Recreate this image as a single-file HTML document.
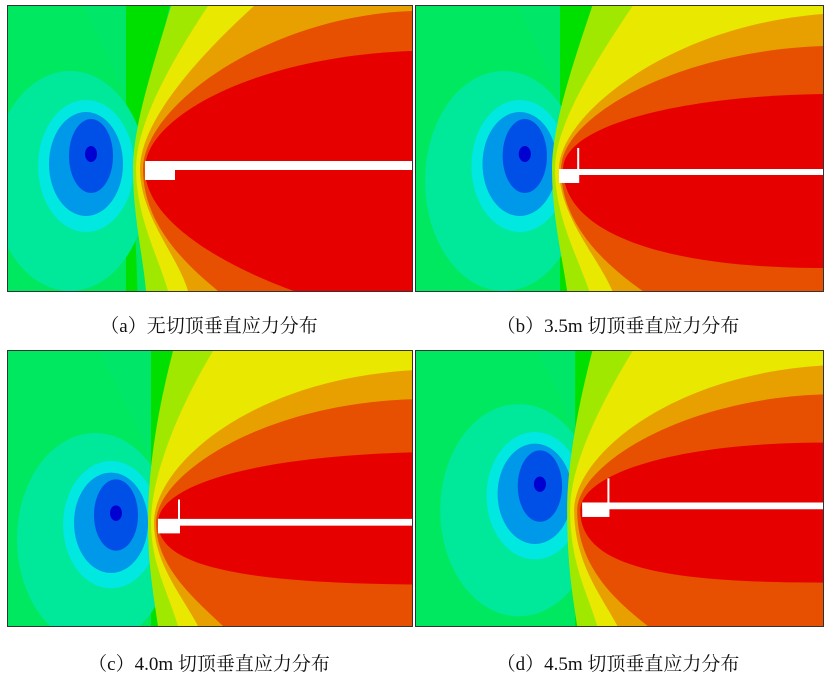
<!DOCTYPE html>
<html><head><meta charset="utf-8"><style>
body{margin:0;background:#fff;width:829px;height:682px;position:relative;overflow:hidden}
.p{position:absolute;border:1px solid #333}
.c{position:absolute;font-family:"Liberation Serif","Noto Serif CJK SC",serif;font-size:19px;color:#111;white-space:nowrap;transform:translateX(-50%)}
</style></head><body>
<svg width="0" height="0" style="position:absolute"><defs>
<g id="base">
<rect x="-60" y="-40" width="520" height="380" fill="#00e668"/>
<path d="M-60,-40 H60 C90,40 110,60 125,120 L125,330 H-60Z" fill="#00e860"/>
<path d="M118,-40 H170 C150,60 130,120 125,163 C125,210 130,250 130,330 H118Z" fill="#00e000"/>
<ellipse cx="62" cy="175" rx="78" ry="110" fill="#00e89a"/>
<ellipse cx="78" cy="160" rx="48" ry="66" fill="#00e8e0"/>
<ellipse cx="78" cy="158" rx="37" ry="52" fill="#0098e8"/>
<ellipse cx="83" cy="150" rx="22" ry="37" fill="#0050e8"/>
<ellipse cx="83" cy="148" rx="6" ry="8" fill="#0000d0"/>
</g>
</defs></svg>

<div class="p" style="left:7px;top:5px;width:404px;height:285px">
<svg width="404" height="285" viewBox="0 0 404 285">
<use href="#base"/>
<path d="M163,0 C145,60 125,120 125,163 C125,210 135,250 138,285 H404 V0Z" fill="#a0e800"/>
<path d="M200,0 C160,60 128,120 128,163 C128,210 150,250 160,285 H404 V0Z" fill="#e8e800"/>
<path d="M246,0 C180,60 132,120 132,163 C132,210 170,250 180,285 H404 V0Z" fill="#e8a000"/>
<path d="M404,5 C260,10 135,100 135,163 C135,220 180,260 210,285 H404Z" fill="#e65000"/>
<path d="M404,45 C250,50 137,110 137,163 C137,220 230,265 286,285 H404Z" fill="#e60000"/>
<rect x="137" y="155" width="267" height="9" fill="#fff"/>
<rect x="137" y="155" width="30" height="19" fill="#fff"/>
</svg></div>

<div class="p" style="left:415px;top:5px;width:407px;height:285px">
<svg width="407" height="285" viewBox="0 0 404 285" preserveAspectRatio="none">
<use href="#base" transform="translate(25,0)"/>
<path d="M175,0 C155,60 135,120 135,163 C135,210 145,250 150,285 H404 V0Z" fill="#a0e800"/>
<path d="M215,0 C175,60 138,120 138,163 C138,210 160,250 172,285 H404 V0Z" fill="#e8e800"/>
<path d="M404,8 C250,20 142,110 142,163 C142,210 180,250 195,285 H404Z" fill="#e8a000"/>
<path d="M404,40 C260,45 144,110 144,163 C144,220 190,260 225,285 H404Z" fill="#e65000"/>
<path d="M404,88 C260,90 146,120 146,163 C146,225 240,262 404,262Z" fill="#e60000"/>
<rect x="142" y="163" width="262" height="6" fill="#fff"/>
<rect x="142" y="163" width="20" height="14" fill="#fff"/>
<rect x="160" y="142" width="2" height="22" fill="#fff"/>
</svg></div>

<div class="p" style="left:7px;top:350px;width:404px;height:275px">
<svg width="404" height="275" viewBox="0 0 404 285" preserveAspectRatio="none">
<use href="#base" transform="translate(25,20)"/>
<path d="M165,0 C150,60 140,120 140,178 C140,220 145,250 150,285 H404 V0Z" fill="#a0e800"/>
<path d="M205,0 C170,60 143,130 143,178 C143,220 160,250 170,285 H404 V0Z" fill="#e8e800"/>
<path d="M404,20 C240,30 146,120 146,178 C146,220 175,255 190,285 H404Z" fill="#e8a000"/>
<path d="M404,50 C250,55 148,130 148,178 C148,225 190,260 215,285 H404Z" fill="#e65000"/>
<path d="M404,105 C240,110 150,140 150,178 C150,225 240,240 404,242Z" fill="#e60000"/>
<rect x="150" y="174" width="254" height="7" fill="#fff"/>
<rect x="150" y="174" width="22" height="15" fill="#fff"/>
<rect x="170" y="154" width="2" height="22" fill="#fff"/>
</svg></div>

<div class="p" style="left:415px;top:350px;width:407px;height:275px">
<svg width="407" height="275" viewBox="0 0 404 285" preserveAspectRatio="none">
<use href="#base" transform="translate(40,-10)"/>
<path d="M175,0 C160,60 150,120 150,165 C150,220 155,250 160,285 H404 V0Z" fill="#a0e800"/>
<path d="M215,0 C180,60 153,120 153,165 C153,220 170,250 180,285 H404 V0Z" fill="#e8e800"/>
<path d="M404,15 C250,25 157,110 157,165 C157,220 185,255 200,285 H404Z" fill="#e8a000"/>
<path d="M404,45 C260,50 160,120 160,165 C160,225 200,260 230,285 H404Z" fill="#e65000"/>
<path d="M404,95 C250,95 163,130 163,165 C163,225 250,240 404,240Z" fill="#e60000"/>
<rect x="165" y="157" width="239" height="7" fill="#fff"/>
<rect x="165" y="157" width="27" height="15" fill="#fff"/>
<rect x="190" y="132" width="2" height="26" fill="#fff"/>
</svg></div>

<div class="c" style="left:209px;top:311px">（a）无切顶垂直应力分布</div>
<div class="c" style="left:618px;top:311px">（b）3.5m 切顶垂直应力分布</div>
<div class="c" style="left:209px;top:649px">（c）4.0m 切顶垂直应力分布</div>
<div class="c" style="left:618px;top:649px">（d）4.5m 切顶垂直应力分布</div>
</body></html>
